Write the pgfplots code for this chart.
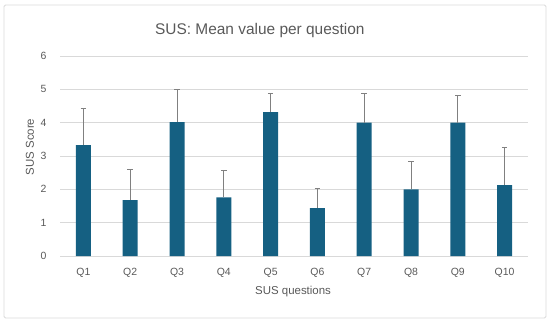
\documentclass[border=0pt]{standalone}
\usepackage{pgfplots}
\pgfplotsset{compat=1.18}
\usepackage{fontspec}
\setmainfont{Liberation Sans}
\definecolor{barc}{HTML}{156082}
\definecolor{txt}{HTML}{595959}
\definecolor{gridc}{HTML}{D9D9D9}
\definecolor{errc}{HTML}{808080}
\pgfplotstableread{
x y e
0 3.33 1.10
1 1.68 0.93
2 4.02 0.97
3 1.76 0.81
4 4.32 0.57
5 1.44 0.59
6 4.00 0.88
7 2.00 0.84
8 4.00 0.83
9 2.13 1.13
}\sus
\begin{document}
\begin{tikzpicture}[x=1bp,y=1bp]
\useasboundingbox (-60,-67) rectangle (490,256);
\draw[gridc, line width=0.8bp, rounded corners=1.5bp] (-56,-62) rectangle (486,251);
\begin{axis}[
  at={(0,0)}, anchor=south west,
  scale only axis, width=468bp, height=200bp,
  xmin=-0.5, xmax=9.5, ymin=0, ymax=6,
  ybar, bar width=15bp,
  ytick={0,1,2,3,4,5,6},
  xtick={0,1,2,3,4,5,6,7,8,9},
  xticklabels={Q1,Q2,Q3,Q4,Q5,Q6,Q7,Q8,Q9,Q10},
  ymajorgrids, grid style={gridc, line width=0.8bp},
  axis x line*=bottom, axis y line*=left,
  y axis line style={draw=none},
  x axis line style={gridc, line width=0.8bp},
  major tick length=0pt,
  tick label style={font=\fontsize{10.5}{12}\selectfont, text=txt},
  /pgf/number format/assume math mode=true,
  yticklabel style={xshift=-10bp},
  xticklabel style={yshift=-9bp},
  title={SUS: Mean value per question},
  title style={at={(axis description cs:0.427,1.10)}, anchor=center, font=\fontsize{15.5}{18}\selectfont, text=txt},
  xlabel={SUS questions},
  xlabel style={at={(axis description cs:0.498,-0.18)}, anchor=center, font=\fontsize{11.5}{13}\selectfont, text=txt},
  ylabel={SUS Score},
  ylabel style={at={(axis description cs:-0.0641,0.545)}, anchor=center, font=\fontsize{11.5}{13}\selectfont, text=txt},
]
\addplot[fill=barc, draw=none,
  error bars/.cd, y dir=plus, y explicit,
  error bar style={errc, line width=0.8bp},
  error mark options={errc, mark size=2.8bp, line width=0.8bp, rotate=90}]
  table[x=x, y=y, y error=e]{\sus};
\end{axis}
\end{tikzpicture}
\end{document}
